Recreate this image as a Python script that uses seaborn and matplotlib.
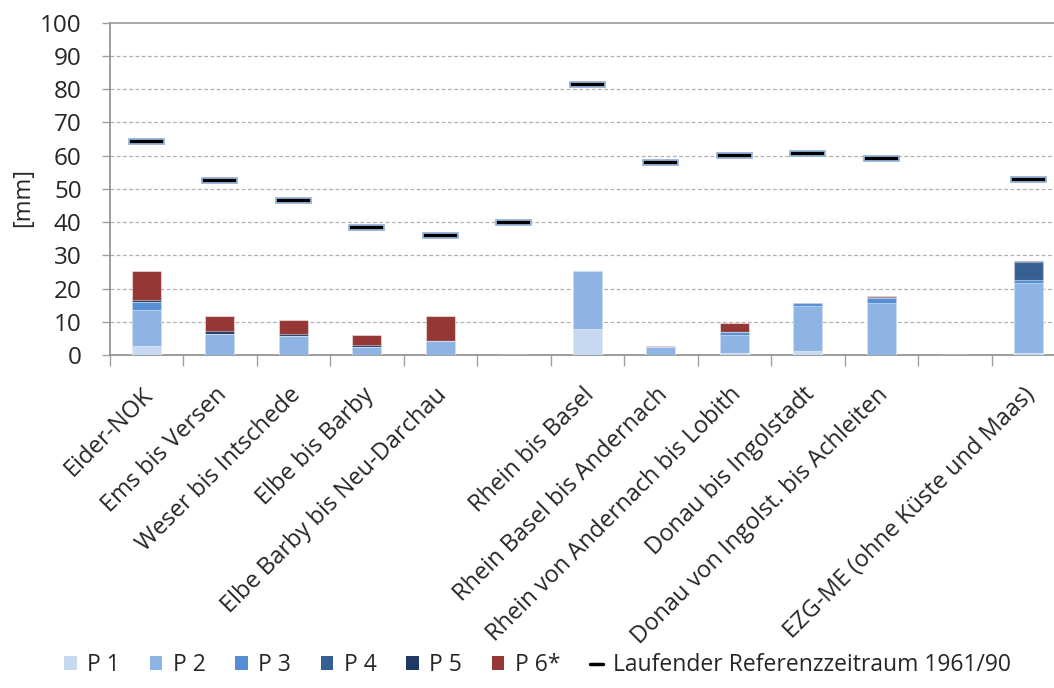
import numpy as np
import pandas as pd
import matplotlib
matplotlib.use("Agg")
import matplotlib.pyplot as plt
import matplotlib.transforms as mtransforms
import seaborn as sns
from matplotlib.patches import Patch
from matplotlib.lines import Line2D

categories = ["Eider-NOK", "Ems bis Versen", "Weser bis Intschede", "Elbe bis Barby",
              "Elbe Barby bis Neu-Darchau", "", "Rhein bis Basel",
              "Rhein Basel bis Andernach", "Rhein von Andernach bis Lobith",
              "Donau bis Ingolstadt", "Donau von Ingolst. bis Achleiten", "",
              "EZG-ME (ohne Küste und Maas)"]
p1 = [2.7, 0.0, 0.0, 0.0, 0.0, 0.0, 7.7, 0.0, 0.6, 1.3, 0.0, 0.0, 0.6]
p2 = [10.8, 6.4, 5.8, 2.5, 4.2, 0.0, 17.6, 2.3, 5.5, 13.5, 15.6, 0.0, 21.2]
p3 = [2.4, 0.0, 0.0, 0.0, 0.0, 0.0, 0.0, 0.0, 0.9, 0.8, 1.6, 0.0, 0.8]
p4 = [0.0, 0.0, 0.0, 0.0, 0.0, 0.0, 0.0, 0.0, 0.0, 0.0, 0.0, 0.0, 5.3]
p5 = [0.6, 0.7, 0.6, 0.4, 0.0, 0.0, 0.0, 0.0, 0.0, 0.0, 0.2, 0.0, 0.4]
p6 = [8.9, 4.5, 4.1, 3.2, 7.4, 0.0, 0.0, 0.4, 2.7, 0.0, 0.4, 0.0, 0.0]
reference = [64.2, 52.5, 46.6, 38.4, 36.0, 40.0, 81.5, 57.8, 59.9, 60.5, 59.0, np.nan, 52.9]

series_names = ["P 1", "P 2", "P 3", "P 4", "P 5", "P 6*"]
series_colors = ["#c6d9f1", "#8eb4e3", "#558ed5", "#376092", "#1f3864", "#953735"]
ref_label = "Laufender Referenzzeitraum 1961/90"

sns.set_theme(style="white")
plt.rcParams['font.family'] = ['Open Sans', 'DejaVu Sans']

fig = plt.figure(figsize=(10.54, 6.88), dpi=100)
ax = fig.add_axes([109.5 / 1054, (688 - 355) / 688, 955.5 / 1054, 332.3 / 688])

slots = [f"s{i}" for i in range(len(categories))]
series = [p1, p2, p3, p4, p5, p6]
cum = np.cumsum(np.array(series), axis=0)

# draw from top layer down so lower layers overlay
for k in range(len(series) - 1, -1, -1):
    df = pd.DataFrame({"slot": slots, "val": cum[k]})
    sns.barplot(data=df, x="slot", y="val", order=slots, color=series_colors[k],
                width=0.4, saturation=1, ax=ax, edgecolor=(1, 1, 1, 0.45),
                linewidth=0.8, zorder=3)

# reference markers
ref = np.array(reference, dtype=float)
xs = np.arange(len(categories))
mask = ~np.isnan(ref)
ax.bar(xs[mask], 1.5, bottom=ref[mask] - 0.75, width=0.48, color="black",
       edgecolor="#95b3d7", linewidth=1.3, zorder=4)

ax.set_xlim(-0.5, len(categories) - 0.5)
ax.set_ylim(0, 100)
ax.set_yticks(np.arange(0, 101, 10))
ax.set_yticklabels([str(v) for v in range(0, 101, 10)], fontsize=17.5)
for v in range(10, 100, 10):
    ax.axhline(v, color="#b0b0b0", linewidth=0.9, linestyle=(0, (3, 2)), zorder=1)

# x ticks: marks at boundaries, labels at centers
ax.set_xticks(np.arange(-0.5, len(categories), 1.0))
ax.set_xticklabels([])
ax.set_xticks(xs, minor=True)
ax.set_xticklabels(categories, minor=True, rotation=45, ha="right", va="top",
                   rotation_mode="anchor", fontsize=17)
ax.tick_params(axis="x", which="major", direction="out", length=8, width=1,
               color="#a0a0a0", bottom=True)
ax.tick_params(axis="x", which="minor", length=0, pad=20)
ax.tick_params(axis="y", direction="out", length=6, width=1, color="#a0a0a0",
               pad=14, left=True)
shift = mtransforms.ScaledTranslation(-5 / 100, 0, fig.dpi_scale_trans)
for lab in ax.get_xticklabels(minor=True):
    lab.set_transform(lab.get_transform() + shift)

ax.set_xlabel("")
ax.set_ylabel("[mm]", fontsize=17)
ax.yaxis.set_label_coords(-0.078, 0.475)

for s in ["left", "bottom", "top"]:
    ax.spines[s].set_visible(True)
    ax.spines[s].set_color("#8c8c8c")
    ax.spines[s].set_linewidth(1.2)
ax.spines["top"].set_color("#9a9a9a")
ax.spines["right"].set_visible(False)

handles = [Patch(facecolor=c, edgecolor="none", label=n) for n, c in zip(series_names, series_colors)]
handles.append(Line2D([0], [0], color="black", linewidth=2.5, label=ref_label))
fig.legend(handles=handles, loc="center", bbox_to_anchor=(0.51, 0.033), ncol=7,
           frameon=False, fontsize=16.5, handlelength=0.55, handleheight=0.55,
           handletextpad=0.45, columnspacing=1.3)

fig.savefig("out.png", dpi=100)
